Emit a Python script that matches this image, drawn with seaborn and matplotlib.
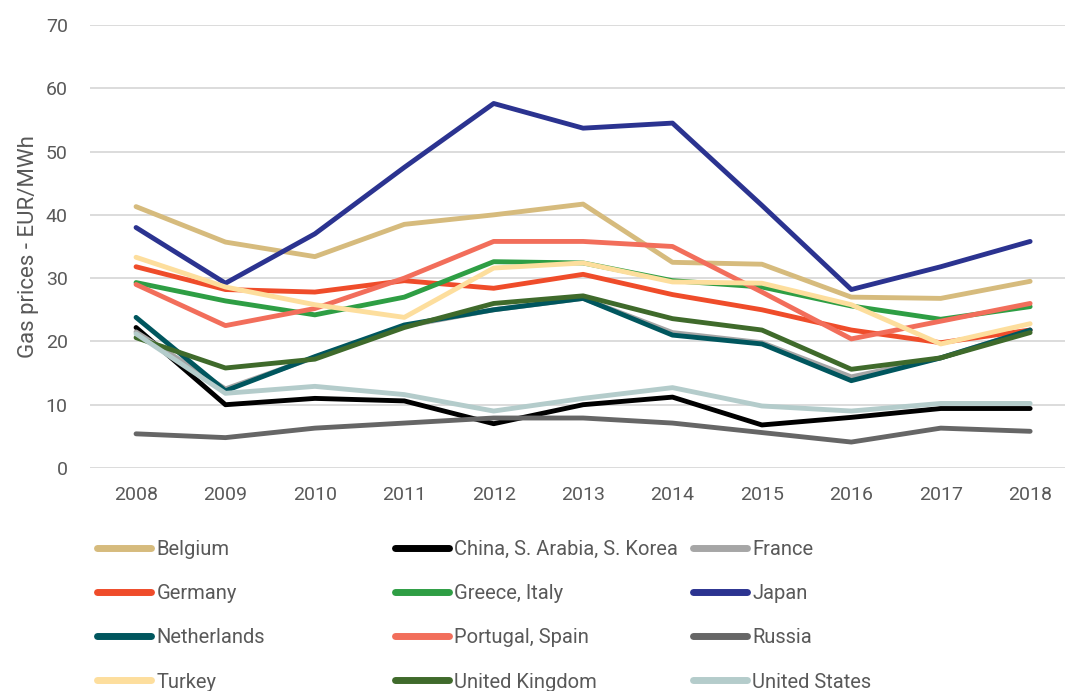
import pandas as pd
import matplotlib.pyplot as plt
import seaborn as sns

years = [2008, 2009, 2010, 2011, 2012, 2013, 2014, 2015, 2016, 2017, 2018]

belgium = [41.3, 35.7, 33.4, 38.5, 40.0, 41.7, 32.5, 32.2, 27.0, 26.8, 29.5]
china_sa_sk = [22.2, 10.0, 11.0, 10.6, 7.0, 10.0, 11.2, 6.8, 8.0, 9.4, 9.4]
france = [21.5, 12.5, 17.5, 22.4, 25.0, 26.8, 21.4, 19.8, 14.4, 17.4, 21.8]
germany = [31.8, 28.2, 27.8, 29.6, 28.4, 30.6, 27.4, 25.0, 21.8, 19.8, 21.8]
greece_italy = [29.3, 26.4, 24.2, 27.0, 32.6, 32.4, 29.6, 28.6, 25.6, 23.5, 25.5]
japan = [38.0, 29.2, 37.0, 47.5, 57.6, 53.7, 54.5, 41.5, 28.2, 31.8, 35.8]
netherlands = [23.8, 12.2, 17.6, 22.6, 25.0, 26.8, 21.0, 19.6, 13.8, 17.4, 21.8]
portugal_spain = [29.0, 22.5, 25.2, 30.0, 35.8, 35.8, 35.0, 27.8, 20.4, 23.2, 26.0]
russia = [5.4, 4.8, 6.3, 7.1, 7.9, 7.9, 7.1, 5.6, 4.1, 6.3, 5.8]
turkey = [33.3, 28.6, 25.8, 23.8, 31.6, 32.4, 29.4, 29.2, 25.8, 19.6, 22.8]
uk = [20.6, 15.8, 17.2, 22.2, 26.0, 27.2, 23.6, 21.8, 15.6, 17.4, 21.4]
us = [21.2, 11.8, 12.9, 11.6, 9.0, 11.0, 12.7, 9.8, 9.0, 10.2, 10.2]

series = {
    'Belgium': belgium,
    'China, S. Arabia, S. Korea': china_sa_sk,
    'France': france,
    'Germany': germany,
    'Greece, Italy': greece_italy,
    'Japan': japan,
    'Netherlands': netherlands,
    'Portugal, Spain': portugal_spain,
    'Russia': russia,
    'Turkey': turkey,
    'United Kingdom': uk,
    'United States': us,
}

colors = {
    'Belgium': '#D6BB7D',
    'China, S. Arabia, S. Korea': '#000000',
    'France': '#A6A6A6',
    'Germany': '#EF4C2A',
    'Greece, Italy': '#2E9E44',
    'Japan': '#2B3390',
    'Netherlands': '#00565E',
    'Portugal, Spain': '#F26E5B',
    'Russia': '#666666',
    'Turkey': '#FDDE9D',
    'United Kingdom': '#3F6A2B',
    'United States': '#B4CCCB',
}

names = list(series.keys())
df = pd.DataFrame([(n, y, v) for n in names for y, v in zip(years, series[n])],
                  columns=['country', 'year', 'price'])

sns.set_style('white')
plt.rcParams['font.family'] = ['Roboto', 'DejaVu Sans']
text_color = '#595959'

fig = plt.figure(figsize=(10.68, 6.91), dpi=100)
ax = fig.add_axes([90 / 1068, 1 - 468 / 691, 975 / 1068, 443 / 691])

sns.lineplot(data=df, x='year', y='price', hue='country', hue_order=names,
             palette=colors, linewidth=3.5, ax=ax, legend=False)

ax.set_xlim(2007.485, 2018.39)
ax.set_ylim(0, 70)
ax.set_yticks(range(0, 71, 10))
ax.set_xticks(years)
ax.yaxis.grid(True, color='#D9D9D9', linewidth=1.3)
ax.set_axisbelow(True)
for s in ax.spines.values():
    s.set_visible(False)
ax.tick_params(axis='both', length=0, labelsize=14, colors=text_color)
ax.tick_params(axis='y', pad=16)
ax.tick_params(axis='x', pad=13)
ax.set_xlabel('')
ax.set_ylabel('Gas prices - EUR/MWh', fontsize=16, color=text_color, labelpad=5)

# legend: three columns placed at fixed positions like the original
handles = {n: plt.Line2D([], [], color=colors[n], linewidth=5, solid_capstyle='round') for n in names}
col_x = [97, 395, 693]
for c in range(3):
    col_names = names[c::3]
    leg = fig.legend([handles[n] for n in col_names], col_names,
                     loc='upper left', bbox_to_anchor=(col_x[c] / 1068, 1 - 540 / 691),
                     frameon=False, fontsize=14.5, handlelength=2.7, handletextpad=0.25,
                     labelspacing=1.25, borderpad=0, borderaxespad=0)
    for t in leg.get_texts():
        t.set_color(text_color)

plt.savefig('out.png', dpi=100)
